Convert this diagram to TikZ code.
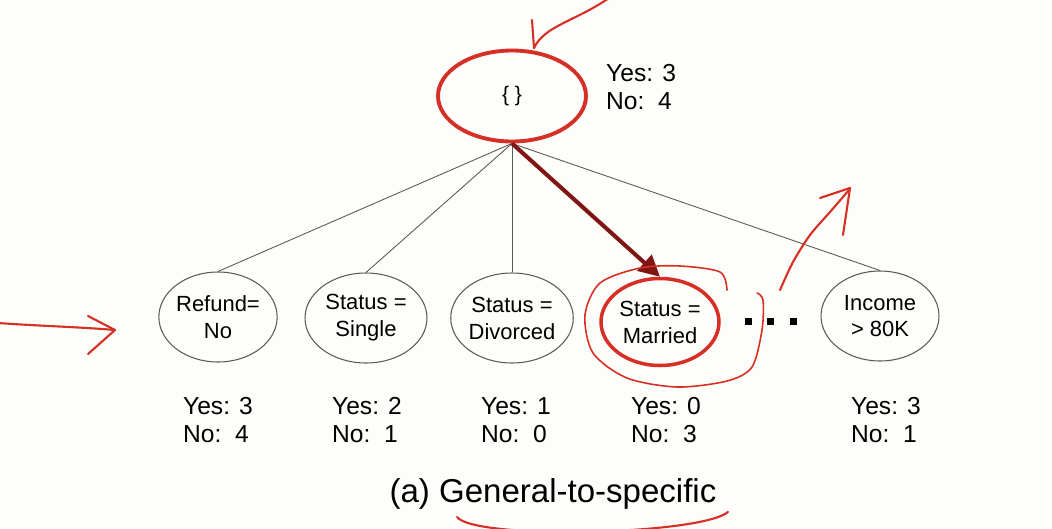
\documentclass[tikz,border=0pt]{standalone}
\usepackage{fontspec}
\setmainfont{Liberation Sans}
\usetikzlibrary{shapes.geometric,arrows.meta}
\definecolor{pen}{RGB}{214,48,38}
\definecolor{darkpen}{RGB}{128,22,20}
\definecolor{paper}{RGB}{253,253,249}
\definecolor{edge}{RGB}{90,90,90}
\tikzset{
  leaf/.style={ellipse,draw=edge,line width=0.6pt,minimum width=2.36cm,minimum height=1.8cm,inner sep=0pt,align=center,font=\fontsize{12.5}{15.3}\selectfont},
  cnt/.style={align=left,font=\fontsize{14}{16}\selectfont},
  ink/.style={draw=pen,line width=1.2pt,line cap=round,line join=round}
}
\begin{document}
\begin{tikzpicture}[x=0.02cm,y=-0.02cm]
\useasboundingbox (0,0) rectangle (1052,528);
\fill[paper] (0,0) rectangle (1052,528);
\node[leaf,draw=pen,line width=2.2pt,minimum width=2.96cm,minimum height=1.82cm,font=\fontsize{12}{14}\selectfont] (r) at (512,96) {\{ \}};
\node[cnt,anchor=west] (n0) at (600,87) {Yes: 3\\No:~~4};
\node[leaf] (s1) at (218,317) {Refund=\\No};
\node[leaf,minimum width=2.44cm] (s2) at (366,318) {Status =\\Single};
\node[leaf,minimum width=2.44cm] (s3) at (512,318) {Status =\\Divorced};
\node[leaf,draw=pen,line width=2pt,minimum width=2.36cm,minimum height=1.74cm] (s4) at (660,322) {Status =\\Married};
\node[leaf] (s5) at (880,316) {Income\\> 80K};
\node[cnt] (n1) at (218,420) {Yes: 3\\No:~~4};
\node[cnt] (n2) at (367,420) {Yes: 2\\No:~~1};
\node[cnt] (n3) at (516,420) {Yes: 1\\No:~~0};
\node[cnt] (n4) at (666,420) {Yes: 0\\No:~~3};
\node[cnt] (n5) at (886,420) {Yes: 3\\No:~~1};
\node[font=\fontsize{18.8}{22}\selectfont] (c) at (553,494) {(a) General-to-specific};
\draw[edge,line width=0.5pt] (r.south) -- (s1.north);
\draw[edge,line width=0.5pt] (r.south) -- (s2.north);
\draw[edge,line width=0.5pt] (r.south) -- (s3.north);
\draw[edge,line width=0.5pt] (r.south) -- (s5.north);
\draw[darkpen,line width=2.3pt,-{Triangle[length=12pt,width=12pt]}] (r.south) -- (s4.north);
\foreach \x in {748,770,793}
  \fill (\x-3.5,317.5) rectangle +(7,7);
\draw[ink] (612,-4) .. controls (575,22) and (545,25) .. (534,48);
\draw[ink] (532,20) -- (534,48);
\draw[ink] (-2,323) .. controls (40,326) and (80,327) .. (115,330);
\draw[ink] (88,316) -- (115,330) -- (88,354);
\draw[ink,line width=0.9pt] plot[smooth] coordinates {(727,290) (720,272) (680,266) (640,268) (600,283) (585,315) (593,353) (627,378) (677,387) (727,381) (752,367) (762,330) (763,300) (757,293)};
\draw[ink] plot[smooth] coordinates {(780,290) (793,262) (810,235) (830,212) (849,190)};
\draw[ink] (820,198) -- (850,188) -- (843,235);
\draw[ink] (457,517) .. controls (475,540) and (700,535) .. (728,512);
\end{tikzpicture}
\end{document}
